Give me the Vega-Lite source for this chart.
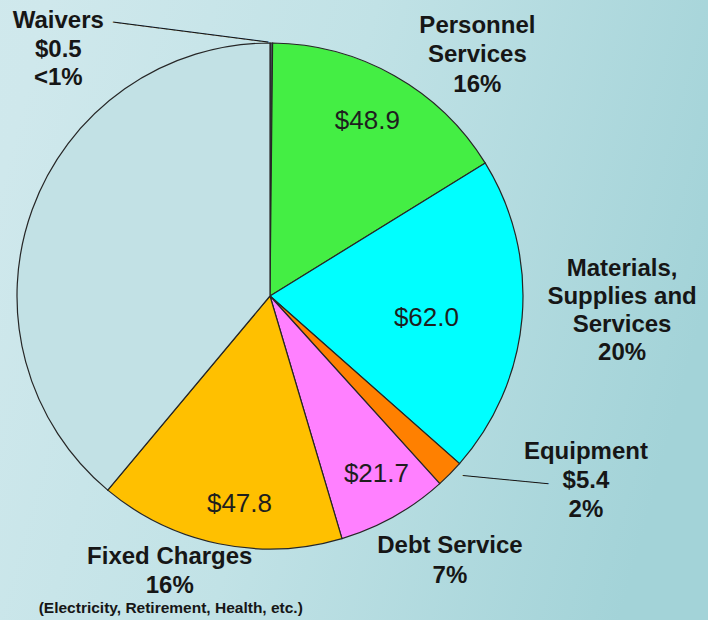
{
  "$schema": "https://vega.github.io/schema/vega-lite/v6.json",
  "autosize": "none",
  "width": 876,
  "height": 648,
  "padding": {"left": -168, "top": -28, "right": 0, "bottom": 0},
  "background": "#bfe0e5",
  "config": {"view": {"stroke": null}, "text": {"font": "Liberation Sans"}},
  "data": {
    "values": [
      {"rank": 1, "category": "Waivers", "amount": 0.5, "dollar": "", "label": "Waivers\n$0.5\n<1%"},
      {"rank": 2, "category": "Personnel", "amount": 48.9, "dollar": "$48.9", "label": "Personnel\nServices\n16%"},
      {"rank": 3, "category": "Materials", "amount": 62.0, "dollar": "$62.0", "label": "Materials,\nSupplies and\nServices\n20%"},
      {"rank": 4, "category": "Equipment", "amount": 5.4, "dollar": "", "label": "Equipment\n$5.4\n2%"},
      {"rank": 5, "category": "Debt", "amount": 21.7, "dollar": "$21.7", "label": "Debt Service\n7%"},
      {"rank": 6, "category": "Fixed", "amount": 47.8, "dollar": "$47.8", "label": "Fixed Charges\n16%"},
      {"rank": 7, "category": "Other", "amount": 118.7, "dollar": "", "label": ""}
    ]
  },
  "layer": [
    {
      "data": {"values": [{}]},
      "mark": {
        "type": "rect",
        "fill": {
          "gradient": "linear", "x1": 0, "y1": 0.3, "x2": 1, "y2": 0.5,
          "stops": [
            {"offset": 0, "color": "#d1e9ed"},
            {"offset": 0.19, "color": "#cfe8ec"},
            {"offset": 0.55, "color": "#c1e2e6"},
            {"offset": 1, "color": "#a3d3d8"}
          ]
        }
      },
      "encoding": {}
    },
    {
      "mark": {"type": "arc", "radius": 253, "stroke": "#262626", "strokeWidth": 1.2},
      "encoding": {
        "theta": {"field": "amount", "type": "quantitative", "stack": true},
        "order": {"field": "rank", "type": "quantitative"},
        "color": {
          "field": "category", "type": "nominal", "legend": null,
          "scale": {
            "domain": ["Waivers", "Personnel", "Materials", "Equipment", "Debt", "Fixed", "Other"],
            "range": ["#4a5a60", "#44ee44", "#00ffff", "#ff8000", "#ff80ff", "#ffc000", "#c2e1e5"]
          }
        }
      }
    },
    {
      "mark": {"type": "text", "radius": 200, "dx": -1, "dy": -1, "fontSize": 26, "fill": "#1e1e1e", "align": "center", "baseline": "middle"},
      "encoding": {
        "theta": {"field": "amount", "type": "quantitative", "stack": true},
        "order": {"field": "rank", "type": "quantitative"},
        "text": {"condition": {"test": "datum.category === 'Personnel'", "field": "dollar", "type": "nominal"}, "value": ""}
      }
    },
    {
      "mark": {"type": "text", "radius": 157, "dx": 0, "dy": 9, "fontSize": 26, "fill": "#1e1e1e", "align": "center", "baseline": "middle"},
      "encoding": {
        "theta": {"field": "amount", "type": "quantitative", "stack": true},
        "order": {"field": "rank", "type": "quantitative"},
        "text": {"condition": {"test": "datum.category === 'Materials'", "field": "dollar", "type": "nominal"}, "value": ""}
      }
    },
    {
      "mark": {"type": "text", "radius": 205, "dx": 6, "dy": -1, "fontSize": 26, "fill": "#1e1e1e", "align": "center", "baseline": "middle"},
      "encoding": {
        "theta": {"field": "amount", "type": "quantitative", "stack": true},
        "order": {"field": "rank", "type": "quantitative"},
        "text": {"condition": {"test": "datum.category === 'Debt'", "field": "dollar", "type": "nominal"}, "value": ""}
      }
    },
    {
      "mark": {"type": "text", "radius": 210, "dx": 12, "dy": 2, "fontSize": 26, "fill": "#1e1e1e", "align": "center", "baseline": "middle"},
      "encoding": {
        "theta": {"field": "amount", "type": "quantitative", "stack": true},
        "order": {"field": "rank", "type": "quantitative"},
        "text": {"condition": {"test": "datum.category === 'Fixed'", "field": "dollar", "type": "nominal"}, "value": ""}
      }
    },
    {
      "mark": {"type": "text", "radius": 253, "dx": -213, "dy": -22, "fontSize": 24, "fontWeight": "bold", "lineHeight": 28.5, "lineBreak": "\n", "fill": "#161616", "align": "center", "baseline": "middle"},
      "encoding": {
        "theta": {"field": "amount", "type": "quantitative", "stack": true},
        "order": {"field": "rank", "type": "quantitative"},
        "text": {"condition": {"test": "datum.category === 'Waivers'", "field": "label", "type": "nominal"}, "value": ""}
      }
    },
    {
      "mark": {"type": "text", "radius": 253, "dx": 83, "dy": -50, "fontSize": 24, "fontWeight": "bold", "lineHeight": 29.5, "lineBreak": "\n", "fill": "#161616", "align": "center", "baseline": "middle"},
      "encoding": {
        "theta": {"field": "amount", "type": "quantitative", "stack": true},
        "order": {"field": "rank", "type": "quantitative"},
        "text": {"condition": {"test": "datum.category === 'Personnel'", "field": "label", "type": "nominal"}, "value": ""}
      }
    },
    {
      "mark": {"type": "text", "radius": 253, "dx": 100, "dy": -49, "fontSize": 24, "fontWeight": "bold", "lineHeight": 28, "lineBreak": "\n", "fill": "#161616", "align": "center", "baseline": "middle"},
      "encoding": {
        "theta": {"field": "amount", "type": "quantitative", "stack": true},
        "order": {"field": "rank", "type": "quantitative"},
        "text": {"condition": {"test": "datum.category === 'Materials'", "field": "label", "type": "nominal"}, "value": ""}
      }
    },
    {
      "mark": {"type": "text", "radius": 253, "dx": 136, "dy": -22, "fontSize": 24, "fontWeight": "bold", "lineHeight": 29, "lineBreak": "\n", "fill": "#161616", "align": "center", "baseline": "middle"},
      "encoding": {
        "theta": {"field": "amount", "type": "quantitative", "stack": true},
        "order": {"field": "rank", "type": "quantitative"},
        "text": {"condition": {"test": "datum.category === 'Equipment'", "field": "label", "type": "nominal"}, "value": ""}
      }
    },
    {
      "mark": {"type": "text", "radius": 253, "dx": 56, "dy": 29, "fontSize": 24, "fontWeight": "bold", "lineHeight": 30, "lineBreak": "\n", "fill": "#161616", "align": "center", "baseline": "middle"},
      "encoding": {
        "theta": {"field": "amount", "type": "quantitative", "stack": true},
        "order": {"field": "rank", "type": "quantitative"},
        "text": {"condition": {"test": "datum.category === 'Debt'", "field": "label", "type": "nominal"}, "value": ""}
      }
    },
    {
      "mark": {"type": "text", "radius": 253, "dx": -49, "dy": 13, "fontSize": 24, "fontWeight": "bold", "lineHeight": 29, "lineBreak": "\n", "fill": "#161616", "align": "center", "baseline": "middle"},
      "encoding": {
        "theta": {"field": "amount", "type": "quantitative", "stack": true},
        "order": {"field": "rank", "type": "quantitative"},
        "text": {"condition": {"test": "datum.category === 'Fixed'", "field": "label", "type": "nominal"}, "value": ""}
      }
    },
    {
      "mark": {"type": "text", "radius": 253, "dx": -48, "dy": 64, "fontSize": 15.5, "fontWeight": "bold", "fill": "#161616", "align": "center", "baseline": "middle"},
      "encoding": {
        "theta": {"field": "amount", "type": "quantitative", "stack": true},
        "order": {"field": "rank", "type": "quantitative"},
        "text": {"condition": {"test": "datum.category === 'Fixed'", "value": "(Electricity, Retirement, Health, etc.)"}, "value": ""}
      }
    },
    {
      "mark": {"type": "text", "radius": 253, "dx": -3, "dy": 0, "angle": 7.35, "font": "DejaVu Sans Mono", "fontSize": 13, "fill": "#1a1a1a", "align": "right", "baseline": "middle"},
      "encoding": {
        "theta": {"field": "amount", "type": "quantitative", "stack": true},
        "order": {"field": "rank", "type": "quantitative"},
        "text": {"condition": {"test": "datum.category === 'Waivers'", "value": "────────────────────"}, "value": ""}
      }
    },
    {
      "mark": {"type": "text", "radius": 253, "dx": 13, "dy": 1, "angle": 5.4, "font": "DejaVu Sans Mono", "fontSize": 13, "fill": "#1a1a1a", "align": "left", "baseline": "middle"},
      "encoding": {
        "theta": {"field": "amount", "type": "quantitative", "stack": true},
        "order": {"field": "rank", "type": "quantitative"},
        "text": {"condition": {"test": "datum.category === 'Equipment'", "value": "───────────"}, "value": ""}
      }
    }
  ]
}
